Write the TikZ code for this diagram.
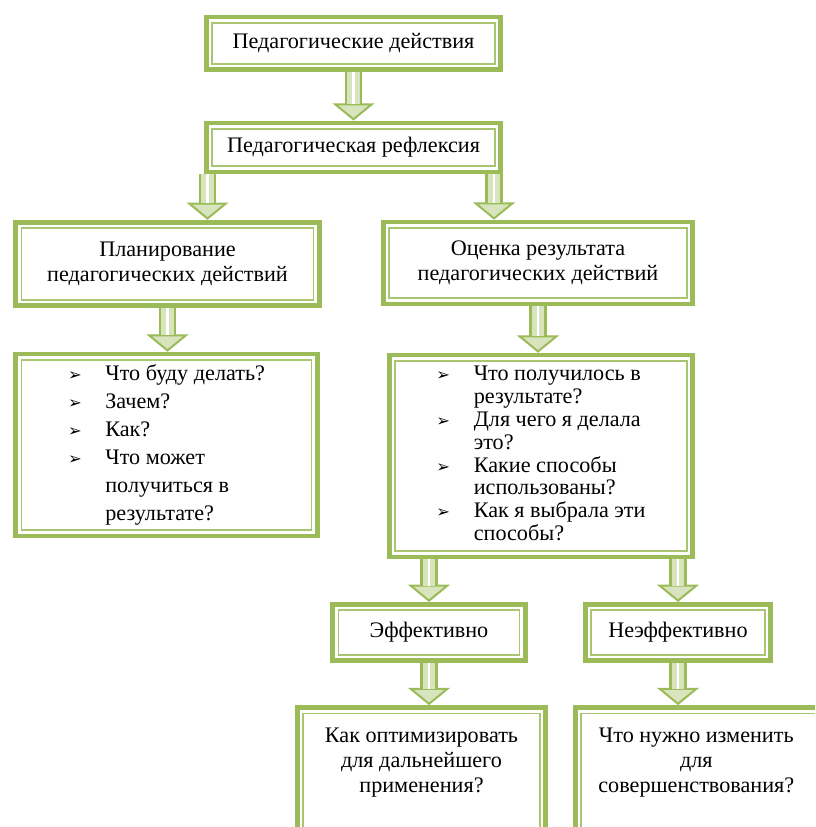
\documentclass[tikz,border=0pt]{standalone}
\usepackage{fontspec}
\setmainfont{Liberation Serif}
\newfontfamily\symfont{DejaVu Sans}
\usetikzlibrary{arrows.meta}

\definecolor{boxgreen}{RGB}{155,187,89}
\definecolor{boxlight}{RGB}{215,228,189}
\newcommand{\bul}{{\symfont\small ➢}}

\tikzset{
  stage/.style={draw=boxgreen, line width=2.6pt, fill=white, align=center, inner sep=2pt,
    path picture={\draw[boxgreen!85, line width=0.9pt]
      ([shift={(3.2pt,-3.2pt)}]path picture bounding box.north west) rectangle
      ([shift={(-3.2pt,3.2pt)}]path picture bounding box.south east);}},
  flow/.style={draw=boxgreen, line width=9.5pt,
    -{Triangle[length=9.5pt, width=23pt, line width=1.1pt, fill=boxlight]},
    postaction={draw=boxlight, line width=6.8pt, -, shorten >=9pt},
    postaction={draw=white, line width=1.4pt, -, shorten >=9pt}}
}

\begin{document}
\begin{tikzpicture}[x=0.55pt, y=-0.55pt, font=\fontsize{12.2}{14}\selectfont]
  \useasboundingbox (0,0) rectangle (815,827);
  \clip (0,0) rectangle (815,827);

  \node[stage, minimum width=162pt, minimum height=29pt] (act)   at (353.5,43.5)  {Педагогические действия};
  \node[stage, minimum width=162pt, minimum height=27pt] (refl)  at (353.5,147.5) {Педагогическая рефлексия};
  \node[stage, minimum width=167pt, minimum height=46pt] (plan)  at (167.5,264)   {Планирование\\педагогических действий};
  \node[stage, minimum width=170pt, minimum height=45pt] (eval)  at (538,263)     {Оценка результата\\педагогических действий};
  \node[stage, minimum width=166pt, minimum height=100pt] (planq) at (166.5,445)  {{\renewcommand{\arraystretch}{1.1}%
    \begin{tabular}{@{}l@{\hspace{13pt}}l@{}}
      \bul & Что буду делать?\\
      \bul & Зачем?\\
      \bul & Как?\\
      \bul & Что может\\
           & получиться в\\
           & результате?
    \end{tabular}}};
  \node[stage, minimum width=167pt, minimum height=111pt] (evalq) at (541,456)  {{\renewcommand{\arraystretch}{0.9}%
    \begin{tabular}{@{}l@{\hspace{13pt}}l@{}}
      \bul & Что получилось в\\
           & результате?\\
      \bul & Для чего я делала\\
           & это?\\
      \bul & Какие способы\\
           & использованы?\\
      \bul & Как я выбрала эти\\
           & способы?
    \end{tabular}}};
  \node[stage, minimum width=106pt, minimum height=31pt] (eff)   at (429,632.5)   {Эффективно};
  \node[stage, minimum width=102pt, minimum height=31pt] (ineff) at (678,632.5)   {Неэффективно};
  \node[stage, minimum width=136.5pt, minimum height=88pt] (opt) at (421.5,787.5)
    {\parbox[c][66pt][t]{130pt}{\centering Как оптимизировать\\ для дальнейшего\\ применения?}};
  \node[stage, minimum width=147pt, minimum height=88pt] (change) at (709,787.5)
    {\parbox[c][66pt][t]{140pt}{\centering\hspace*{-14pt}Что нужно изменить\\ \hspace*{-14pt}для\\ \hspace*{-14pt}совершенствования?}};

  \draw[flow] (act.south) -- (refl.north);
  \draw[flow] ([xshift=2pt]refl.south west) -- ([xshift=2pt]refl.south west |- plan.north);
  \draw[flow] ([xshift=-5pt]refl.south east) -- ([xshift=-5pt]refl.south east |- eval.north);
  \draw[flow] (plan.south) -- (plan.south |- planq.north);
  \draw[flow] (eval.south) -- (eval.south |- evalq.north);
  \draw[flow] (evalq.south -| eff.north) -- (eff.north);
  \draw[flow] (evalq.south -| ineff.north) -- (ineff.north);
  \draw[flow] (eff.south) -- (eff.south |- opt.north);
  \draw[flow] (ineff.south) -- (ineff.south |- change.north);
\end{tikzpicture}
\end{document}
